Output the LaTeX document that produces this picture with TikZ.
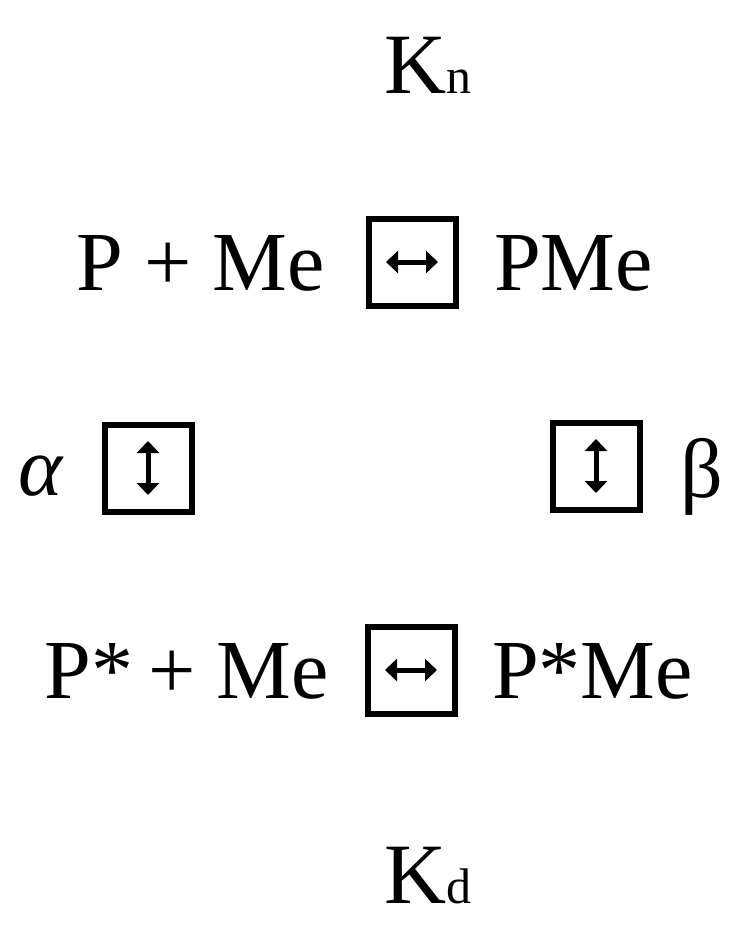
\documentclass[tikz,border=0pt]{standalone}
\usepackage{fontspec}
\setmainfont{Liberation Serif}
\usetikzlibrary{arrows.meta,positioning}
\def\sm(#1){{\fontsize{50}{54}\selectfont #1}}
\tikzset{
  eqbox/.style={draw, line width=6pt, minimum size=87pt, inner sep=0pt},
  species/.style={inner sep=0pt, font=\fontsize{84}{90}\selectfont},
  eqarrow/.style={line width=5pt, {Triangle[length=12pt,width=22pt]}-{Triangle[length=12pt,width=22pt]}}
}
\begin{document}
\begin{tikzpicture}[x=1pt,y=-1pt]
\useasboundingbox (0,0) rectangle (742,930);
% equilibrium boxes
\node[eqbox] (topbox) at (412,262) {};
\node[eqbox] (botbox) at (411,670) {};
\node[eqbox] (leftbox) at (148,468) {};
\node[eqbox] (rightbox) at (596,466) {};
\draw[eqarrow] ([xshift=-26pt]topbox.center) -- ([xshift=26pt]topbox.center);
\draw[eqarrow] ([xshift=-26pt]botbox.center) -- ([xshift=26pt]botbox.center);
\draw[eqarrow] ([yshift=-27pt]leftbox.center) -- ([yshift=27pt]leftbox.center);
\draw[eqarrow] ([yshift=-27pt]rightbox.center) -- ([yshift=27pt]rightbox.center);
% species
\node[species, anchor=base east] (pme) at (325,290) {P + Me};
\node[species, anchor=base west] (cpx) at (494,290) {PMe};
\node[species, anchor=base east] (spme) at (329,698) {P*\kern-6pt{} + Me};
\node[species, anchor=base west] (scpx) at (492,698) {P*Me};
% constants
\node[species, anchor=base west] (kn) at (384,93) {\fontsize{86}{90}\selectfont K\sm(n)};
\node[species, anchor=base west] (kd) at (384,903) {\fontsize{86}{90}\selectfont K\sm(d)};
\node[species, anchor=base west] (alpha) at (18,495) {\textit{α}};
\node[species, anchor=base west] (beta) at (680,497) {β};
\end{tikzpicture}
\end{document}
